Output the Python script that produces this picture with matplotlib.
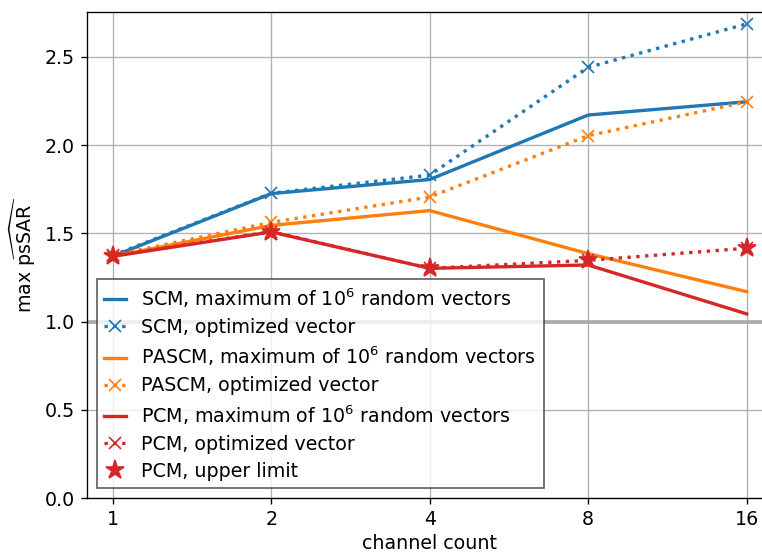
import matplotlib
matplotlib.use("Agg")
import matplotlib.pyplot as plt

plt.rcParams['mathtext.fontset'] = 'dejavusans'
plt.rcParams['font.size'] = 11.4

channels = [1, 2, 4, 8, 16]
tick_labels = ["1", "2", "4", "8", "16"]

scm_max = [1.37, 1.725, 1.805, 2.17, 2.245]
scm_opt = [1.375, 1.727, 1.83, 2.44, 2.686]
pascm_max = [1.37, 1.545, 1.629, 1.385, 1.17]
pascm_opt = [1.375, 1.562, 1.706, 2.053, 2.245]
pcm_max = [1.37, 1.508, 1.302, 1.321, 1.044]
pcm_opt = [1.372, 1.51, 1.302, 1.347, 1.416]
pcm_limit = [1.372, 1.51, 1.302, 1.347, 1.416]

fig = plt.figure(figsize=(6.35, 554 / 120), dpi=120)
ax = fig.add_axes([86.7 / 762, (554 - 498.3) / 554, (772.7 - 86.7) / 762, (498.3 - 11.7) / 554])

ax.axhline(1.0, color='darkgray', lw=2.2, zorder=1.5)

lw = 2
ax.plot(channels, scm_max, '-', color='C0', lw=lw, label=r'SCM, maximum of $10^6$ random vectors')
ax.plot(channels, scm_opt, ':', marker='x', ms=7.5, color='C0', lw=lw, label='SCM, optimized vector')
ax.plot(channels, pascm_max, '-', color='C1', lw=lw, label=r'PASCM, maximum of $10^6$ random vectors')
ax.plot(channels, pascm_opt, ':', marker='x', ms=7.5, color='C1', lw=lw, label='PASCM, optimized vector')
ax.plot(channels, pcm_max, '-', color='C3', lw=lw, label=r'PCM, maximum of $10^6$ random vectors')
ax.plot(channels, pcm_opt, ':', marker='x', ms=7.5, color='C3', lw=lw, label='PCM, optimized vector')
ax.plot(channels, pcm_limit, linestyle='none', marker='*', ms=11.5, color='C3', label='PCM, upper limit')

ax.set_xscale('log', base=2)
ax.set_xticks(channels)
ax.set_xticklabels(tick_labels)
ax.minorticks_off()
ax.set_xlim(2 ** -0.164, 16 * 2 ** 0.164)
ax.set_ylim(0, 2.755)
ax.set_yticks([0.0, 0.5, 1.0, 1.5, 2.0, 2.5])
ax.grid(True, color='#b0b0b0', lw=0.8)
ax.set_axisbelow(True)

ax.set_xlabel('channel count', labelpad=3)
ax.set_ylabel(r'max $\widehat{\mathrm{psSAR}}$')

leg = ax.legend(loc='lower left', fancybox=False, edgecolor='0.2', framealpha=0.8,
                handlelength=1.15, labelspacing=0.42, borderaxespad=0.53)

fig.savefig('out.png', dpi=120)
